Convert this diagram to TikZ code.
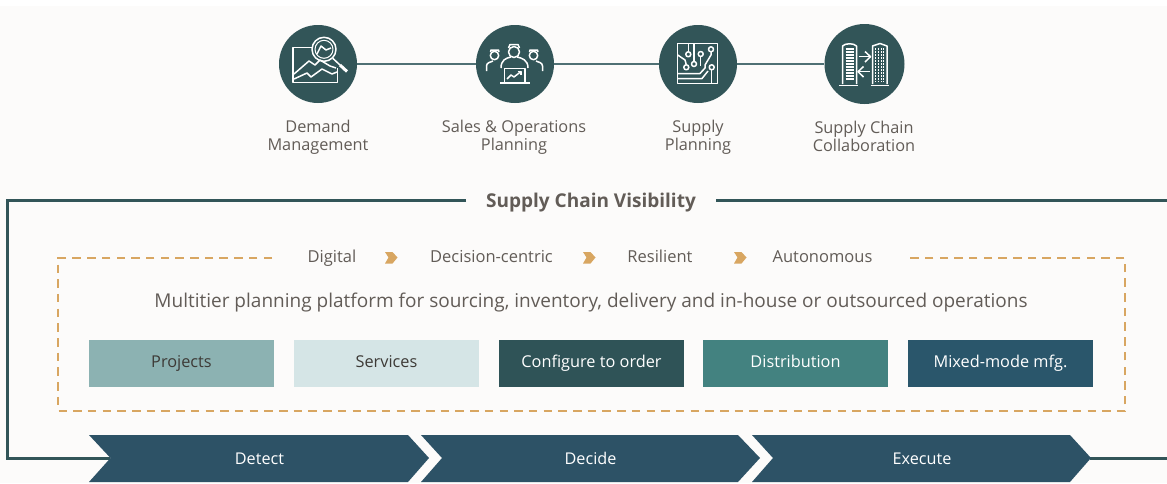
\documentclass[tikz,border=0pt]{standalone}
\usepackage{fontspec}
\setmainfont{Open Sans}
\definecolor{paper}{HTML}{FCFBFA}
\definecolor{teal}{HTML}{325558}
\definecolor{tealline}{HTML}{4F7074}
\definecolor{navy}{HTML}{2D5266}
\definecolor{gold}{HTML}{D8A661}
\definecolor{txt}{HTML}{625C57}
\definecolor{boxtxt}{HTML}{3D3A36}
\definecolor{boxa}{HTML}{8CB2B2}
\definecolor{boxb}{HTML}{D5E5E6}
\definecolor{boxc}{HTML}{2F5357}
\definecolor{boxd}{HTML}{438280}
\definecolor{boxe}{HTML}{2A566B}
\tikzset{
  round/.style={circle, fill=teal, minimum size=78pt, inner sep=0pt},
  caption/.style={text=txt, align=center, font=\fontsize{16.3}{18}\selectfont},
  oneline/.style={text height=12pt, text depth=4pt, inner sep=0pt},
  stagebox/.style={oneline, minimum width=185pt, minimum height=47pt, font=\fontsize{16.3}{18}\selectfont},
  stepname/.style={oneline, text=txt, font=\fontsize{16.5}{18}\selectfont},
  phasename/.style={oneline, text=white, font=\fontsize{16.2}{18}\selectfont},
  frameline/.style={draw=teal, line width=3pt},
  dashline/.style={draw=gold, line width=1.8pt, dash pattern=on 8.5pt off 6.2pt},
  icon/.style={draw=white, line width=1.5pt, line join=round},
  chevron/.style={fill=navy},
}
\begin{document}
\begin{tikzpicture}[x=1pt, y=-1pt]
\useasboundingbox (0,0) rectangle (1167,483);
\fill[paper] (0,6) rectangle (1167,483);
% Circles
\node[round] (demand) at (318,64) {};
\node[round] (sop) at (515,64) {};
\node[round] (planning) at (698,64) {};
\node[round, minimum size=80pt] (collab) at (864.5,64) {};
\draw[tealline, line width=1.6pt] (demand) -- (sop);
\draw[tealline, line width=1.6pt] (sop) -- (planning);
\draw[tealline, line width=1.6pt] (planning) -- (collab);
% Captions
\node[caption] (demandtxt) at (318,137.5) {Demand\\Management};
\node[caption] (soptxt) at (514,137.5) {Sales \& Operations\\Planning};
\node[caption] (planningtxt) at (698,137) {Supply\\Planning};
\node[caption] (collabtxt) at (864,136) {Supply Chain\\Collaboration};
% Magnifier icon
\draw[icon] (311.5,47.7) -- (293,47.7) -- (293,82.7) -- (337.7,82.7) -- (337.7,68);
\draw[icon] (294,74) -- (309,61) -- (315,65) -- (320,60) -- (330,66) -- (336,68);
\draw[icon] (294,79) -- (307,73) -- (311,77) -- (322,69) -- (332,74) -- (337,72);
\draw[icon] (324,49.3) circle (12pt);
\draw[icon, line width=1pt] (324,49.3) circle (9pt);
\draw[icon] (317,54) -- (321,46) -- (326,50) -- (331,48);
\draw[icon] (333,58.5) -- (340,65);
\draw[icon, line width=3pt] (340,65) -- (347,71.5);
% People icon
\draw[icon] (514,52) circle (5.5pt);
\draw[icon] (508.5,48) -- (510,44.5) -- (518,44.5) -- (519.5,48);
\draw[icon] (501,68) .. controls (501,60) and (506,58) .. (511,57);
\draw[icon] (528,68) .. controls (528,60) and (522,58) .. (517,57);
\draw[icon] (494.5,55.5) circle (4.2pt);
\draw[icon] (490.5,52) -- (491,50) -- (498.5,50) -- (499,52);
\draw[icon] (486.5,71) -- (486.5,66) .. controls (486.5,63) and (490,62) .. (493,61);
\draw[icon] (533.5,55.5) circle (4.2pt);
\draw[icon] (529.5,52) -- (530,50) -- (537.5,50) -- (538,52);
\draw[icon] (542.5,71) -- (542.5,66) .. controls (542.5,63) and (539,62) .. (536,61);
\draw[icon] (504.5,82) -- (504.5,68.5) -- (525,68.5) -- (525,82);
\draw[icon] (500,83) -- (529.5,83);
\draw[icon] (507,79) -- (511,75) -- (514,77) -- (521,71.5);
\draw[icon] (517.5,71.5) -- (521,71.5) -- (521,75);
% Circuit icon
\draw[icon] (677.7,43.3) rectangle (717.7,83.3);
\draw[icon] (688.3,43.3) -- (688.3,52);
\draw[icon] (694,43.3) -- (694,61.5);
\draw[icon] (700.7,56.5) -- (700.7,66);
\draw[icon] (711,52) -- (711,55) -- (705,65) -- (705,68) -- (700,73.5) -- (677.7,73.5);
\draw[icon] (677.7,78.5) -- (702,78.5) -- (708,71);
\draw[icon] (677.7,55) -- (685,60) -- (686.3,64.8);
\draw[icon] (711.7,69.8) -- (711.7,83.3);
\foreach \cx/\cy in {688.3/54.3, 700.7/54, 711/49.3, 694/64, 686.3/67.3, 711.7/67.3}
  \draw[icon] (\cx,\cy) circle (2.5pt);
% Buildings icon
\draw[icon] (842.5,84) -- (842.5,46) .. controls (845,43) and (854,43) .. (856.5,46) -- (856.5,84);
\draw[icon] (872.5,84) -- (872.5,46) -- (880,43.5) -- (887,46) -- (887,84);
\draw[icon] (839.3,85.5) -- (858.3,85.5);
\draw[icon] (870.7,85.5) -- (889.3,85.5);
\foreach \sy in {49,52,...,79}
  \draw[white, line width=1.2pt] (845.5,\sy) -- (853.5,\sy);
\foreach \sx in {875.5,878.3,881.1,883.9}
  \draw[white, line width=1pt, dash pattern=on 1.6pt off 1.4pt] (\sx,48) -- (\sx,82);
\draw[icon] (858.5,56.7) -- (870,56.7);
\draw[icon] (865,51.5) -- (870.5,56.7) -- (865,62);
\draw[icon] (870,71.7) -- (858.5,71.7);
\draw[icon] (863.5,66.5) -- (858,71.7) -- (863.5,77);
% Visibility frame
\node[oneline, font=\fontsize{19}{20}\selectfont\bfseries, text=txt] (visibility) at (591,203) {Supply Chain Visibility};
\coordinate (frametl) at (7,200);
\coordinate (framebl) at (7,458);
\coordinate (framel) at (466,200);
\coordinate (framer) at (716,200);
\coordinate (frametr) at (1167,200);
\coordinate (notch) at (110,458);
\coordinate (tip) at (1090,458);
\coordinate (frameout) at (1167,458);
\draw[frameline] (framel) -- (frametl) -- (framebl) -- (notch);
\draw[frameline] (framer) -- (frametr);
\draw[frameline] (tip) -- (frameout);
% Dashed box
\coordinate (dashtl) at (58,258);
\coordinate (dashbl) at (58,411);
\coordinate (dashbr) at (1125,411);
\coordinate (dashtr) at (1125,258);
\draw[dashline] (272,258) -- (dashtl) -- (dashbl) -- (dashbr) -- (dashtr) -- (910,258);
% Steps
\node[stepname] (digital) at (332,258) {Digital};
\node[stepname] (centric) at (491.5,258) {Decision-centric};
\node[stepname] (resilient) at (660,258) {Resilient};
\node[stepname] (autonomous) at (822.5,258) {Autonomous};
\foreach \ax in {385,583,734}
  \fill[gold] (\ax,252) -- (\ax+7.5,252) -- (\ax+12.5,257.5) -- (\ax+7.5,263.5) -- (\ax,263.5) -- (\ax+3.5,257.5) -- cycle;
\node[oneline, text=txt, font=\fontsize{19}{20}\selectfont] (platform) at (591,303.5) {Multitier planning platform for sourcing, inventory, delivery and in-house or outsourced operations};
% Boxes
\node[stagebox, fill=boxa, text=boxtxt] (projects) at (181.5,363.5) {Projects};
\node[stagebox, fill=boxb, text=boxtxt] (services) at (386.5,363.5) {Services};
\node[stagebox, fill=boxc, text=white] (configure) at (591.5,363.5) {Configure to order};
\node[stagebox, fill=boxd, text=white] (distribution) at (795.5,363.5) {Distribution};
\node[stagebox, fill=boxe, text=white] (mixed) at (1000.5,363.5) {Mixed-mode mfg.};
% Chevrons
\fill[chevron] (89,435) -- (408,435) -- (429,458) -- (408,482) -- (89,482) -- (110.5,458) -- cycle;
\fill[chevron] (421,435) -- (738,435) -- (760,458) -- (738,482) -- (421,482) -- (442,458) -- cycle;
\fill[chevron] (752,435) -- (1070,435) -- (1091,458) -- (1070,482) -- (752,482) -- (773,458) -- cycle;
\node[phasename] (detect) at (259.5,460) {Detect};
\node[phasename] (decide) at (590.5,460) {Decide};
\node[phasename] (execute) at (922,460) {Execute};
\end{tikzpicture}
\end{document}
